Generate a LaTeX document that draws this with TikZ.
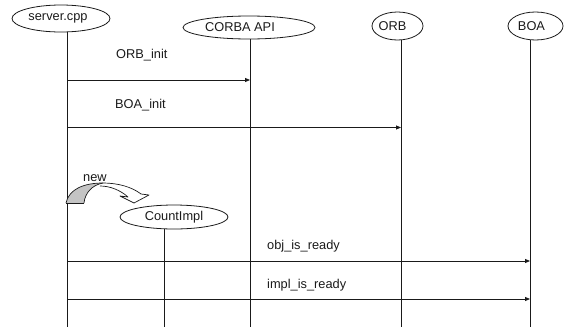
\documentclass[tikz,border=0pt]{standalone}
\usepackage{fontspec}
\setmainfont{Liberation Sans}
\usetikzlibrary{arrows.meta,shapes.geometric}
\definecolor{bandgrey}{HTML}{C4C4C4}
\definecolor{ink}{HTML}{1A1A1A}
\begin{document}
\begin{tikzpicture}[x=1pt,y=-1pt,
  every node/.style={font=\fontsize{12.8}{15}\selectfont, text=ink},
  actor/.style={draw=ink, line width=0.8pt, ellipse, inner sep=0pt},
  lifeline/.style={draw=ink, line width=0.8pt},
  msg/.style={draw=ink, line width=0.8pt, -{Triangle[length=5pt,width=4pt]}},
  msglabel/.style={anchor=base west, inner sep=0pt}]
\useasboundingbox (0,0) rectangle (570,327);

% participants
\node[actor, minimum width=98pt, minimum height=27pt,
      label={[xshift=-3pt]center:server.cpp}] (srv) at (61,18.5) {};
\node[actor, minimum width=132pt, minimum height=23pt,
      label={[xshift=-9pt]center:CORBA API}] (api) at (249,27.5) {};
\node[actor, minimum width=51pt, minimum height=28pt,
      label={[xshift=-5pt]center:ORB}] (orb) at (397.5,26) {};
\node[actor, minimum width=55pt, minimum height=28pt,
      label={[xshift=-4pt]center:BOA}] (boa) at (535.5,26) {};
\node[actor, minimum width=108pt, minimum height=24pt] (cnt) at (174,217) {CountImpl};

% lifeline ends
\coordinate (srvEnd) at (67,327);
\coordinate (apiEnd) at (250,327);
\coordinate (orbEnd) at (401,327);
\coordinate (boaEnd) at (530,327);
\coordinate (cntEnd) at (164,327);

\draw[lifeline] (srvEnd |- srv.south) -- (srvEnd);
\draw[lifeline] (apiEnd |- api.south) -- (apiEnd);
\draw[lifeline] (orbEnd |- orb.south) -- (orbEnd);
\draw[lifeline] (boaEnd |- boa.south) -- (boaEnd);
\draw[lifeline] (cntEnd |- cnt.south) -- (cntEnd);

% message rows
\coordinate (m1) at (0,80);
\coordinate (m2) at (0,127.5);
\coordinate (m3) at (0,261);
\coordinate (m4) at (0,299);

\draw[msg] (srvEnd |- m1) -- (apiEnd |- m1);
\draw[msg] (srvEnd |- m2) -- (orbEnd |- m2);
\draw[msg] (srvEnd |- m3) -- (boaEnd |- m3);
\draw[msg] (srvEnd |- m4) -- (boaEnd |- m4);

\node[msglabel] (l1) at (116,58) {ORB\_init};
\node[msglabel] (l2) at (115,108) {BOA\_init};
\node[msglabel] (l3) at (83,181) {new};
\node[msglabel] (l4) at (267,249) {obj\_is\_ready};
\node[msglabel] (l5) at (267,288) {impl\_is\_ready};

% curved "new" arrow
\fill[bandgrey] (66,203) .. controls (69,189) and (84,183) .. (103,183)
  .. controls (92,185) and (85,193) .. (84,203) -- cycle;
\draw[ink, line width=0.7pt, line join=round]
  (66,203) .. controls (69,189) and (84,183) .. (103,183)
  .. controls (118,183) and (132,187) .. (141,194)
  -- (149,195) -- (134,203) -- (120,196) -- (128,197)
  .. controls (120,190) and (110,186) .. (100,186);
\draw[ink, line width=0.7pt]
  (84,203) .. controls (85,193) and (92,185) .. (103,183);
\draw[ink, line width=0.7pt] (66,203) -- (84,203);
\end{tikzpicture}
\end{document}
